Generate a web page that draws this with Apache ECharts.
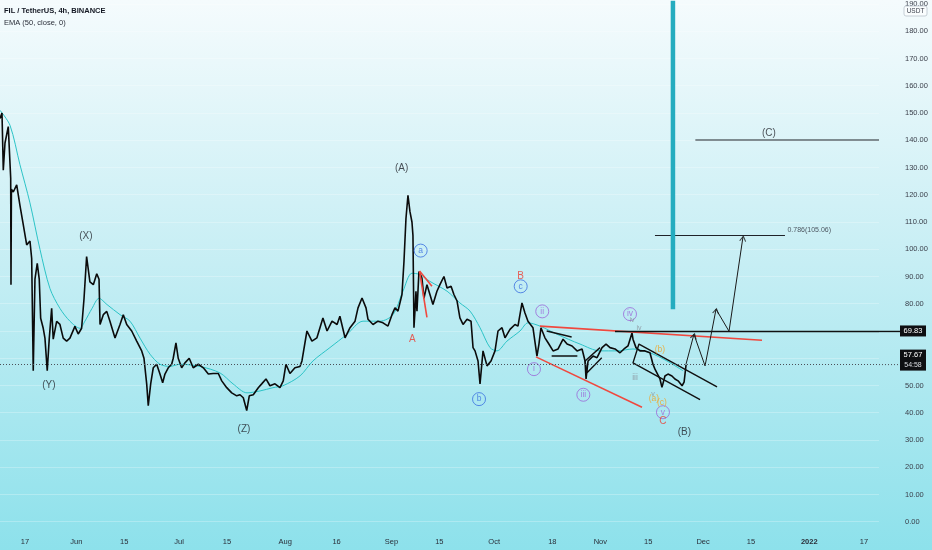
<!DOCTYPE html>
<html><head><meta charset="utf-8">
<script src="https://cdn.jsdelivr.net/npm/echarts@6/dist/echarts.min.js"></script>
<style>
html,body{margin:0;padding:0;width:932px;height:550px;overflow:hidden;
background:linear-gradient(to bottom,#f5fbfd 0%,#c6eef4 48%,#8de1eb 100%);}
#c{width:932px;height:550px;}
</style></head><body><div id="c"></div>
<script>
const FONT = '"Liberation Sans", Arial, sans-serif';
const YEAR = 2021;

// ---- data ----
const xRange = ['05-09 17', '2022-01-21 09'];
const yRange = [-3.03, 190.33];
const yTicks = [0,10,20,30,40,50,60,70,80,90,100,110,120,130,140,150,160,170,180,190];
const tickDates = ['05-17','06-01','06-15','07-01','07-15','08-01','08-16','09-01','09-15','10-01','10-18','11-01','11-15','12-01','12-15','2022-01-01','2022-01-17'];
const tickLabels = ['17','Jun','15','Jul','15','Aug','16','Sep','15','Oct','18','Nov','15','Dec','15','2022','17'];

const priceDates = ['05-09 17','05-10 07','05-10 16','05-11 04','05-12 03','05-12 20','05-12 22','05-13 01','05-13 14','05-14 14','05-15 13','05-16 12','05-17 12','05-18 11','05-18 23','05-19 10','05-19 22','05-20 14','05-21 04','05-21 14','05-22 08','05-22 20','05-23 12','05-24 02','05-24 19','05-25 06','05-26 06','05-27 05','05-28 04','05-29 04','05-30 03','05-31 14','06-01 13','06-02 13','06-03 06','06-04 00','06-04 23','06-05 23','06-06 23','06-07 15','06-07 22','06-08 21','06-09 21','06-10 20','06-12 07','06-13 18','06-14 17','06-15 17','06-17 04','06-18 15','06-20 02','06-20 18','06-21 13','06-22 00','06-22 17','06-23 11','06-24 11','06-25 10','06-26 05','06-26 21','06-27 20','06-28 20','06-29 07','06-30 02','06-30 18','07-01 18','07-02 17','07-03 23','07-05 03','07-06 15','07-08 02','07-09 13','07-10 23','07-12 11','07-13 11','07-14 22','07-16 09','07-17 20','07-18 19','07-19 18','07-20 18','07-21 12','07-22 16','07-24 03','07-25 03','07-26 09','07-27 13','07-29 00','07-30 11','07-31 10','08-01 05','08-02 09','08-03 20','08-05 07','08-05 21','08-07 08','08-08 19','08-10 06','08-12 00','08-13 05','08-14 16','08-16 03','08-16 23','08-18 11','08-19 22','08-21 09','08-22 06','08-23 10','08-24 14','08-25 04','08-26 15','08-28 02','08-29 13','08-31 00','09-01 04','09-02 01','09-02 22','09-04 02','09-04 16','09-05 06','09-05 20','09-06 10','09-07 00','09-07 07','09-07 14','09-07 21','09-08 04','09-08 11','09-09 01','09-09 22','09-10 12','09-11 09','09-12 06','09-13 03','09-14 07','09-15 04','09-16 08','09-17 06','09-18 10','09-19 06','09-20 04','09-21 00','09-21 22','09-23 02','09-24 06','09-24 20','09-25 10','09-26 07','09-26 21','09-27 18','09-28 22','09-30 02','10-01 06','10-02 03','10-03 07','10-04 04','10-05 15','10-07 02','10-07 23','10-09 03','10-10 00','10-10 21','10-12 08','10-13 12','10-14 02','10-14 16','10-15 20','10-16 18','10-18 05','10-19 16','10-21 03','10-22 07','10-23 18','10-25 05','10-26 16','10-27 13','10-27 20','10-28 10','10-29 21','10-31 01','11-01 12','11-02 16','11-03 20','11-05 07','11-06 18','11-07 22','11-09 02','11-10 06','11-10 13','11-11 10','11-12 14','11-14 01','11-15 12','11-16 09','11-16 23','11-17 13','11-18 10','11-19 00','11-19 21','11-20 18','11-21 22','11-22 19','11-23 17','11-24 21','11-25 11','11-26 01'];
const priceValues = [148,150,129,139,145,126,87,122,121,123.6,116,109,101.6,103,96.6,55.4,89,94.8,89,74.7,71,67.4,55.4,67,78.3,67,73.5,72.4,67.4,66.3,67.4,71.7,68.9,71,82,97.3,88,87,91,89,72.4,76,77.2,73.5,67.4,72.4,76,72.4,70,66.3,62.7,60,50.6,42.6,50.6,56.5,57.8,54.2,51,54.2,56.5,57.8,60,65.6,60,56.5,58.3,60,56.5,57.8,56.5,54.2,54.4,54.4,51.7,49.2,47.3,46.2,46.6,45.5,40.8,46.2,46.6,49.2,50.6,52.4,49.9,50.6,49.2,51.7,57.8,54.4,56.5,57,59,70,66.3,67.5,74.8,70,73.6,72.4,75.4,67.5,71.2,73.6,78.5,82.1,78.5,74.3,72.4,73.6,73,71.8,76,78.5,77.3,83.4,95.5,111.3,119.8,113.8,110,105,71.2,77.3,84.6,77.3,91.8,89.4,82,87,83.4,79.7,84.6,87,90,85.8,86.4,83.4,81,74.8,72.4,74.3,73.6,63.9,62.7,59,50.6,62.7,57.2,59,62.7,70,71.2,67.5,70.6,72.4,71.8,80.3,76.6,73.6,71.2,60.8,65.2,71.2,67.5,65.7,62.7,63.4,67,65.2,64.5,62.7,63.4,59,52.4,59,60.8,60.2,63.9,65.2,63.9,63.4,62,63.4,64.5,69.3,67,63.9,62.7,62.7,62,57.8,56,56.6,52.4,49.3,53.5,54.2,53.5,52.4,51.7,49.9,51.2,57.67];

const emaDates = ['05-09 17','05-12 15','05-15 13','05-18 11','05-21 09','05-24 07','05-27 05','05-30 03','06-02 01','06-03 12','06-05 14','06-07 15','06-09 23','06-13 18','06-16 16','06-19 14','06-22 12','06-25 10','06-28 08','07-01 06','07-07 02','07-12 23','07-16 18','07-20 20','07-24 15','07-28 10','07-31 08','08-05 07','08-09 02','08-14 01','08-19 01','08-23 17','08-28 16','09-01 11','09-04 09','09-07 00','09-09 08','09-12 06','09-17 06','09-21 00','09-23 23','09-26 21','09-29 19','10-01 20','10-04 18','10-08 13','10-10 21','10-14 09','10-19 09','10-26 02','10-31 22','11-05 21','11-10 13','11-15 12','11-20 11','11-25 04'];
const emaValues = [151,145.5,131,117,100,85.6,78.3,73.6,71,73.6,78.3,82,79.7,76,73.6,67.4,61.5,57.8,57,57.8,57,54.6,50.6,47.3,48,49.2,49.9,53.5,59,63.9,68.8,73.6,73.6,76,84.6,91.2,90.7,88.2,84.6,80.3,77.3,71.2,63.9,62.7,66.3,70,73,71.8,68.8,65.2,62.7,62.7,63.4,62,59,55.4];

const lastPrice = 57.67;
const lastCountdown = '54:58';
const resistLevel = 69.83;
const resistStart = '11-05 07';
const fibLevel = [['11-16 23',105.06],['12-24 22',105.06]];
const fibText = '0.786(105.06)';
const cLevel = [['11-28 18',140.1],['2022-01-21 09',140.1]];
const tealBar = [['11-22 05',78],['11-22 05',200]];
const redWedgeTop = [['10-14 09',71.8],['12-18 05',66.6]];
const redWedgeBottom = [['10-13 05',60.5],['11-13 04',42.0]];
const redA1 = [['09-09 05',92.0],['09-12 20',86.4]];
const redA2 = [['09-09 05',92.0],['09-11 09',75.0]];
const triTop = [['10-16 08',70.0],['10-23 15',67.8]];
const triBottom = [['10-17 19',60.8],['10-25 07',60.8]];
const smallChannel = [['11-01 10',60.2],['10-28 03',54.7],['10-27 13',59.0],['10-31 22',63.9]];
const downChannel = [['11-30 03',44.8],['11-10 13',58.3],['11-12 07',65.2],['12-05 02',49.5]];
const projection = [['11-26 01',57.9],['11-28 08',68.8],['12-01 14',57.2],['12-04 19',78.0],['12-08 14',69.9],['12-12 16',104.6]];

const waveLabels = [['05-24 00',50.2,'(Y)'],['06-03 19',104.8,'(X)'],['07-19 23',34.1,'(Z)'],['09-04 00',129.9,'(A)'],['11-25 13',32.8,'(B)'],['12-20 06',142.7,'(C)']];
const redLabels = [['09-07 02',67.1,'A'],['10-08 18',90.0,'B'],['11-19 07',37.0,'C']];
const blueCircles = [['09-09 13',99.5,'a'],['09-26 14',45.0,'b'],['10-08 18',86.4,'c']];
const purpleCircles = [['10-12 15',56.0,'i'],['10-15 01',77.2,'ii'],['10-27 01',46.6,'iii'],['11-09 16',76.2,'iv'],['11-19 07',40.2,'v']];
const orangeLabels = [['11-18 10',63,'(b)'],['11-16 16',45.1,'(a)'],['11-19 00',43.7,'(c)']];
const grayLabels = [['11-10 06',74.0,'iv'],['11-12 07',71.2,'iv'],['11-16 09',47.0,'v']];
const grayBigLabels = [['11-11 03',52.8,'iii']];

// ---- helpers ----
function T(s){
  const m = s.match(/^(?:(\d{4})-)?(\d{2})-(\d{2})(?: (\d{2}))?$/);
  return Date.UTC(m[1] ? +m[1] : YEAR, +m[2]-1, +m[3], m[4] ? +m[4] : 0);
}
const pts = a => a.map(p => [T(p[0]), p[1]]);
const xMin = T(xRange[0]), xMax = T(xRange[1]);
const tickTimes = tickDates.map(T);
function labelFor(v){
  let best = 0, bd = Infinity;
  tickTimes.forEach((t,i)=>{ const d = Math.abs(t-v); if(d<bd){bd=d;best=i;} });
  const s = tickLabels[best];
  return /^\d{4}$/.test(s) ? '{b|'+s+'}' : s;
}
function lineS(data, color, width, extra){
  return Object.assign({type:'line', data: pts(data), symbol:'none', silent:true, clip:true,
    lineStyle:{color, width}, z:4}, extra||{});
}
function textS(data, color, size, extra){
  return Object.assign({type:'scatter', data: data.map(d=>[T(d[0]), d[1], d[2]]), symbolSize:1, silent:true, z:12,
    itemStyle:{color:'rgba(0,0,0,0)'},
    label:{show:true, position:'inside', formatter:p=>p.data[2], color, fontSize:size, fontFamily:FONT}}, extra||{});
}
function circleS(data, color){
  return {type:'scatter', data: data.map(d=>[T(d[0]), d[1], d[2]]), symbol:'circle', symbolSize:13, silent:true, z:12,
    itemStyle:{color:'rgba(255,255,255,0)', borderColor:color, borderWidth:1},
    label:{show:true, position:'inside', formatter:p=>p.data[2], color, fontSize:8.5, fontFamily:FONT}};
}

const chart = echarts.init(document.getElementById('c'), null, {renderer:'canvas'});
const projPts = pts(projection);
const arrowRot = [-15, -11, -8];
const arrowData = [1,3,5].map((k,i)=>({value: projPts[k], symbolRotate: arrowRot[i]}));

chart.setOption({
  animation: false,
  backgroundColor: 'transparent',
  grid: {left:0, right:53, top:0, bottom:20},
  xAxis: {type:'value', min:xMin, max:xMax, scale:true,
    axisLine:{show:false}, axisTick:{show:false}, splitLine:{show:false},
    axisLabel:{customValues: tickTimes, formatter: labelFor, color:'#2a2e39', fontSize:7.5, margin:8, fontFamily:FONT,
      rich:{b:{fontWeight:'bold', fontSize:7.5, color:'#2a2e39', fontFamily:FONT}}}},
  yAxis: {type:'value', position:'right', min:yRange[0], max:yRange[1],
    axisLine:{show:false}, axisTick:{show:false, customValues:yTicks},
    splitLine:{show:true, lineStyle:{color:'rgba(255,255,255,0.25)', width:1}},
    axisLabel:{customValues:yTicks, formatter:v=>v.toFixed(2), align:'left', margin:26, fontSize:7.5, color:'#3a3f4a', fontFamily:FONT}},
  series: [
    {type:'line', data: emaDates.map((d,i)=>[T(d), emaValues[i]]), symbol:'none', smooth:0.3, silent:true, z:2,
      lineStyle:{color:'#2cc3c6', width:1}},
    {type:'line', data: priceDates.map((d,i)=>[T(d), priceValues[i]]), symbol:'none', silent:true, z:3,
      lineStyle:{color:'#0b0b0b', width:1.6},
      markLine:{silent:true, symbol:'none', label:{show:false},
        lineStyle:{color:'#4a4f58', width:1, type:[1,2]}, data:[{yAxis:lastPrice}]}},
    lineS(tealBar, '#25acbf', 4.5, {z:5}),
    lineS(redWedgeTop, '#f0483e', 1.6),
    lineS(redWedgeBottom, '#f0483e', 1.6),
    lineS(redA1, '#f0483e', 1.6),
    lineS(redA2, '#f0483e', 1.6),
    lineS(triTop, '#111', 1.4),
    lineS(triBottom, '#111', 1.4),
    lineS(smallChannel, '#111', 1.4),
    lineS(downChannel, '#111', 1.4),
    lineS([[resistStart, resistLevel],[xRange[1], resistLevel]], '#111', 1.4),
    lineS(fibLevel, '#1f2229', 1.1),
    lineS(cLevel, '#1f2229', 1.1),
    lineS(projection, '#1a1a1a', 1),
    {type:'scatter', data: arrowData, symbol:'path://M0,10 L5,0 L10,10', symbolSize:[6,5], symbolOffset:[0,2],
      silent:true, z:6, itemStyle:{color:'none', borderColor:'#1a1a1a', borderWidth:1}},
    textS(waveLabels, '#1f2229', 10),
    textS(redLabels, '#ee3b30', 10),
    textS(orangeLabels, '#f2a41f', 8.5),
    textS(grayLabels, '#8a8f98', 7),
    textS(grayBigLabels, '#8a8f98', 8.5),
    circleS(blueCircles, '#3a6ee0'),
    circleS(purpleCircles, '#9b67d8'),
    {type:'scatter', data:[[T(fibLevel[1][0]), fibLevel[1][1], fibText]], symbolSize:1, silent:true, z:12,
      itemStyle:{color:'rgba(0,0,0,0)'},
      label:{show:true, position:'right', distance:2, offset:[0,-5], formatter:p=>p.data[2], color:'#2a2e39', fontSize:7, fontFamily:FONT}}
  ]
});

const yR = chart.convertToPixel({yAxisIndex:0}, resistLevel);
const yL = chart.convertToPixel({yAxisIndex:0}, lastPrice);
const xEdge = chart.convertToPixel({xAxisIndex:0}, xMax);
chart.setOption({graphic:[
  {type:'text', left:4, top:7, style:{text:'FIL / TetherUS, 4h, BINANCE', font:'600 7.5px '+FONT, fill:'#131722'}},
  {type:'text', left:4, top:19, style:{text:'EMA (50, close, 0)', font:'7.5px '+FONT, fill:'#2a2e39'}},
  {type:'rect', shape:{x:904, y:6, width:23, height:10, r:2}, style:{fill:'rgba(255,255,255,0.55)', stroke:'#b9c3cb', lineWidth:0.8}, z:20},
  {type:'text', x:915.5, y:11, style:{text:'USDT', font:'6.5px '+FONT, fill:'#3a3f4a', align:'center', verticalAlign:'middle'}, z:21},
  {type:'line', shape:{x1:xEdge, y1:yR, x2:900, y2:yR}, style:{stroke:'#111', lineWidth:1.4}, z:20},
  {type:'line', shape:{x1:xEdge, y1:yL, x2:900, y2:yL}, style:{stroke:'#4a4f58', lineWidth:1, lineDash:[1,2]}, z:20},
  {type:'rect', shape:{x:900, y:yR-6, width:26, height:11}, style:{fill:'#0e0f12'}, z:22},
  {type:'text', x:913, y:yR-0.5, style:{text:resistLevel.toFixed(2), font:'7.5px '+FONT, fill:'#ffffff', align:'center', verticalAlign:'middle'}, z:23},
  {type:'rect', shape:{x:900, y:yL-15, width:26, height:21}, style:{fill:'#0e0f12'}, z:22},
  {type:'text', x:913, y:yL-9.5, style:{text:lastPrice.toFixed(2), font:'7.5px '+FONT, fill:'#ffffff', align:'center', verticalAlign:'middle'}, z:23},
  {type:'text', x:913, y:yL+0.5, style:{text:lastCountdown, font:'7px '+FONT, fill:'#d9dbe0', align:'center', verticalAlign:'middle'}, z:23}
]});
</script></body></html>
